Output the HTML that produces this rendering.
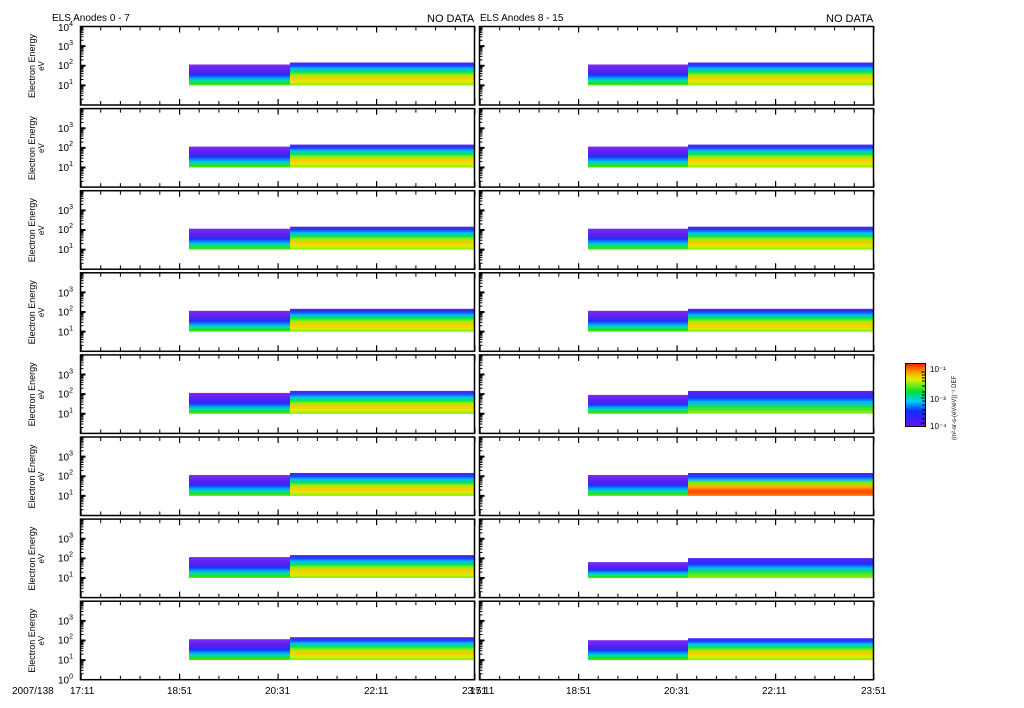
<!DOCTYPE html>
<html><head><meta charset="utf-8"><style>
body{margin:0;background:#fff;width:1024px;height:708px;overflow:hidden}
svg{display:block}
text{font-family:"Liberation Sans",sans-serif;fill:#000}
.yl{font-size:10px}
.yl tspan{font-size:7px}
.et{font-size:9px}
.ev{font-size:8px}
</style></head><body>
<svg width="1024" height="708" xmlns="http://www.w3.org/2000/svg" xmlns:xlink="http://www.w3.org/1999/xlink">
<defs>
<linearGradient id="gq" x1="0" y1="0" x2="0" y2="1">
<stop offset="0" stop-color="#7a2cf0"/><stop offset="0.3" stop-color="#5a20f0"/><stop offset="0.5" stop-color="#2030ff"/><stop offset="0.65" stop-color="#00a0ff"/><stop offset="0.78" stop-color="#00e0a0"/><stop offset="0.9" stop-color="#20e020"/><stop offset="1" stop-color="#60e800"/>
</linearGradient>
<linearGradient id="gh" x1="0" y1="0" x2="0" y2="1">
<stop offset="0" stop-color="#5020f0"/><stop offset="0.14" stop-color="#2040ff"/><stop offset="0.27" stop-color="#00c0ff"/><stop offset="0.4" stop-color="#00e060"/><stop offset="0.55" stop-color="#a0f000"/><stop offset="0.7" stop-color="#ffc800"/><stop offset="0.85" stop-color="#d8f000"/><stop offset="1" stop-color="#80f000"/>
</linearGradient>
<linearGradient id="gr" x1="0" y1="0" x2="0" y2="1">
<stop offset="0" stop-color="#5020f0"/><stop offset="0.15" stop-color="#2040ff"/><stop offset="0.3" stop-color="#00c0ff"/><stop offset="0.42" stop-color="#80f000"/><stop offset="0.6" stop-color="#ffb000"/><stop offset="0.8" stop-color="#ff4000"/><stop offset="1" stop-color="#ff8000"/>
</linearGradient>
<linearGradient id="gg" x1="0" y1="0" x2="0" y2="1">
<stop offset="0" stop-color="#6020f0"/><stop offset="0.3" stop-color="#2030ff"/><stop offset="0.5" stop-color="#00c0ff"/><stop offset="0.7" stop-color="#20e040"/><stop offset="1" stop-color="#a0f000"/>
</linearGradient>
<linearGradient id="gb" x1="0" y1="1" x2="0" y2="0">
<stop offset="0" stop-color="#6010ff"/><stop offset="0.25" stop-color="#1030ff"/><stop offset="0.4" stop-color="#00d0ff"/><stop offset="0.55" stop-color="#00e030"/><stop offset="0.75" stop-color="#e0f000"/><stop offset="0.88" stop-color="#ff9000"/><stop offset="1" stop-color="#f02000"/>
</linearGradient>
<g id="fr">
<rect x="0" y="0" width="394" height="78.5" fill="none" stroke="#000" stroke-width="1.5"/>
<line x1="0" y1="2" x2="395" y2="2" stroke="#000" stroke-width="4" stroke-dasharray="1 18.7"/>
<line x1="0" y1="76.5" x2="395" y2="76.5" stroke="#000" stroke-width="4" stroke-dasharray="1 18.7"/>
<line x1="0" y1="3" x2="395" y2="3" stroke="#000" stroke-width="6" stroke-dasharray="1.2 97.3"/>
<line x1="0" y1="75.5" x2="395" y2="75.5" stroke="#000" stroke-width="6" stroke-dasharray="1.2 97.3"/>
<path d="M0 72.59h3M0 69.14h3M0 66.69h3M0 64.78h3M0 63.23h3M0 61.91h3M0 60.78h3M0 59.78h3M0 52.97h3M0 49.52h3M0 47.07h3M0 45.16h3M0 43.61h3M0 42.29h3M0 41.16h3M0 40.16h3M0 33.34h3M0 29.89h3M0 27.44h3M0 25.53h3M0 23.98h3M0 22.66h3M0 21.53h3M0 20.53h3M0 13.72h3M0 10.27h3M0 7.82h3M0 5.91h3M0 4.36h3M0 3.04h3M0 1.91h3M0 0.91h3" stroke="#000" stroke-width="1"/>
<path d="M0 58.875h5M0 39.25h5M0 19.625h5" stroke="#000" stroke-width="2"/>
</g>
<g id="dl">
<rect x="108.5" y="38" width="101" height="20.9" fill="url(#gq)"/>
<rect x="209.5" y="36" width="184.5" height="22.9" fill="url(#gh)"/>
</g>
<g id="dr">
<rect x="108.5" y="38" width="100" height="20.9" fill="url(#gq)"/>
<rect x="208.5" y="36" width="185.5" height="22.9" fill="url(#gh)"/>
</g>
</defs>

<g transform="translate(80.5,26.5)"><use href="#dl" xlink:href="#dl"/><use href="#fr" xlink:href="#fr"/></g>
<g transform="translate(80.5,108.6)"><use href="#dl" xlink:href="#dl"/><use href="#fr" xlink:href="#fr"/></g>
<g transform="translate(80.5,190.7)"><use href="#dl" xlink:href="#dl"/><use href="#fr" xlink:href="#fr"/></g>
<g transform="translate(80.5,272.8)"><use href="#dl" xlink:href="#dl"/><use href="#fr" xlink:href="#fr"/></g>
<g transform="translate(80.5,354.9)"><use href="#dl" xlink:href="#dl"/><use href="#fr" xlink:href="#fr"/></g>
<g transform="translate(80.5,437)"><use href="#dl" xlink:href="#dl"/><use href="#fr" xlink:href="#fr"/></g>
<g transform="translate(80.5,519.1)"><use href="#dl" xlink:href="#dl"/><use href="#fr" xlink:href="#fr"/></g>
<g transform="translate(80.5,601.2)"><use href="#dl" xlink:href="#dl"/><use href="#fr" xlink:href="#fr"/></g>

<g transform="translate(479.5,26.5)"><use href="#dr" xlink:href="#dr"/><use href="#fr" xlink:href="#fr"/></g>
<g transform="translate(479.5,108.6)"><use href="#dr" xlink:href="#dr"/><use href="#fr" xlink:href="#fr"/></g>
<g transform="translate(479.5,190.7)"><use href="#dr" xlink:href="#dr"/><use href="#fr" xlink:href="#fr"/></g>
<g transform="translate(479.5,272.8)"><use href="#dr" xlink:href="#dr"/><use href="#fr" xlink:href="#fr"/></g>
<g transform="translate(479.5,354.9)">
<rect x="108.5" y="40" width="100" height="18.9" fill="url(#gq)"/>
<rect x="208.5" y="36" width="185.5" height="22.9" fill="url(#gg)"/>
<use href="#fr" xlink:href="#fr"/></g>
<g transform="translate(479.5,437)">
<rect x="108.5" y="38" width="100" height="20.9" fill="url(#gq)"/>
<rect x="208.5" y="36" width="185.5" height="22.9" fill="url(#gr)"/>
<use href="#fr" xlink:href="#fr"/></g>
<g transform="translate(479.5,519.1)">
<rect x="108.5" y="43" width="100" height="16" fill="url(#gq)"/>
<rect x="208.5" y="39" width="185.5" height="20" fill="url(#gg)"/>
<use href="#fr" xlink:href="#fr"/></g>
<g transform="translate(479.5,601.2)">
<rect x="108.5" y="39" width="100" height="19.9" fill="url(#gq)"/>
<rect x="208.5" y="37" width="185.5" height="21.9" fill="url(#gh)"/>
<use href="#fr" xlink:href="#fr"/></g>

<g>
<text class="yl" x="58" y="31">10<tspan dy="-5">4</tspan></text>
<text class="yl" x="58" y="50">10<tspan dy="-5">3</tspan></text>
<text class="yl" x="58" y="69">10<tspan dy="-5">2</tspan></text>
<text class="yl" x="58" y="89">10<tspan dy="-5">1</tspan></text>
<text class="et" transform="translate(35,66) rotate(-90)" text-anchor="middle">Electron Energy</text>
<text class="ev" transform="translate(44,66) rotate(-90)" text-anchor="middle">eV</text>
</g>
<g transform="translate(0,82.1)">
<text class="yl" x="58" y="50">10<tspan dy="-5">3</tspan></text>
<text class="yl" x="58" y="69">10<tspan dy="-5">2</tspan></text>
<text class="yl" x="58" y="89">10<tspan dy="-5">1</tspan></text>
<text class="et" transform="translate(35,66) rotate(-90)" text-anchor="middle">Electron Energy</text>
<text class="ev" transform="translate(44,66) rotate(-90)" text-anchor="middle">eV</text>
</g>
<g transform="translate(0,164.2)">
<text class="yl" x="58" y="50">10<tspan dy="-5">3</tspan></text>
<text class="yl" x="58" y="69">10<tspan dy="-5">2</tspan></text>
<text class="yl" x="58" y="89">10<tspan dy="-5">1</tspan></text>
<text class="et" transform="translate(35,66) rotate(-90)" text-anchor="middle">Electron Energy</text>
<text class="ev" transform="translate(44,66) rotate(-90)" text-anchor="middle">eV</text>
</g>
<g transform="translate(0,246.3)">
<text class="yl" x="58" y="50">10<tspan dy="-5">3</tspan></text>
<text class="yl" x="58" y="69">10<tspan dy="-5">2</tspan></text>
<text class="yl" x="58" y="89">10<tspan dy="-5">1</tspan></text>
<text class="et" transform="translate(35,66) rotate(-90)" text-anchor="middle">Electron Energy</text>
<text class="ev" transform="translate(44,66) rotate(-90)" text-anchor="middle">eV</text>
</g>
<g transform="translate(0,328.4)">
<text class="yl" x="58" y="50">10<tspan dy="-5">3</tspan></text>
<text class="yl" x="58" y="69">10<tspan dy="-5">2</tspan></text>
<text class="yl" x="58" y="89">10<tspan dy="-5">1</tspan></text>
<text class="et" transform="translate(35,66) rotate(-90)" text-anchor="middle">Electron Energy</text>
<text class="ev" transform="translate(44,66) rotate(-90)" text-anchor="middle">eV</text>
</g>
<g transform="translate(0,410.5)">
<text class="yl" x="58" y="50">10<tspan dy="-5">3</tspan></text>
<text class="yl" x="58" y="69">10<tspan dy="-5">2</tspan></text>
<text class="yl" x="58" y="89">10<tspan dy="-5">1</tspan></text>
<text class="et" transform="translate(35,66) rotate(-90)" text-anchor="middle">Electron Energy</text>
<text class="ev" transform="translate(44,66) rotate(-90)" text-anchor="middle">eV</text>
</g>
<g transform="translate(0,492.6)">
<text class="yl" x="58" y="50">10<tspan dy="-5">3</tspan></text>
<text class="yl" x="58" y="69">10<tspan dy="-5">2</tspan></text>
<text class="yl" x="58" y="89">10<tspan dy="-5">1</tspan></text>
<text class="et" transform="translate(35,66) rotate(-90)" text-anchor="middle">Electron Energy</text>
<text class="ev" transform="translate(44,66) rotate(-90)" text-anchor="middle">eV</text>
</g>
<g transform="translate(0,574.7)">
<text class="yl" x="58" y="50">10<tspan dy="-5">3</tspan></text>
<text class="yl" x="58" y="69">10<tspan dy="-5">2</tspan></text>
<text class="yl" x="58" y="89">10<tspan dy="-5">1</tspan></text>
<text class="yl" x="58" y="109">10<tspan dy="-5">0</tspan></text>
<text class="et" transform="translate(35,66) rotate(-90)" text-anchor="middle">Electron Energy</text>
<text class="ev" transform="translate(44,66) rotate(-90)" text-anchor="middle">eV</text>
</g>

<text x="52" y="21" font-size="10">ELS Anodes 0 - 7</text>
<text x="427" y="22" font-size="11">NO DATA</text>
<text x="480" y="21" font-size="10">ELS Anodes 8 - 15</text>
<text x="826" y="22" font-size="11">NO DATA</text>
<text x="12" y="694" font-size="10">2007/138</text>
<text x="70" y="694" font-size="10">17:11</text>
<text x="167" y="694" font-size="10">18:51</text>
<text x="265" y="694" font-size="10">20:31</text>
<text x="364" y="694" font-size="10">22:11</text>
<text x="462" y="694" font-size="10">23:51</text>
<text x="470" y="694" font-size="10">17:11</text>
<text x="566" y="694" font-size="10">18:51</text>
<text x="664" y="694" font-size="10">20:31</text>
<text x="762" y="694" font-size="10">22:11</text>
<text x="861" y="694" font-size="10">23:51</text>

<rect x="905.5" y="363.5" width="20" height="63" fill="url(#gb)" stroke="#000"/>
<path d="M925 372h-4M925 375h-3M925 378h-3M925 381h-3M925 386h-3M925 392h-3M925 395h-3M925 398h-4M925 401h-3M925 405h-3M925 410h-3M925 414h-3M925 419h-3M925 423h-4" stroke="#000"/>
<text x="930" y="372" font-size="8">10⁻¹</text>
<text x="930" y="402" font-size="8">10⁻³</text>
<text x="930" y="429" font-size="8">10⁻⁴</text>
<text transform="translate(956,440) rotate(-90)" font-size="6">(m²-sr-s-(eV/eV))⁻¹ DEF</text>
</svg>
</body></html>
